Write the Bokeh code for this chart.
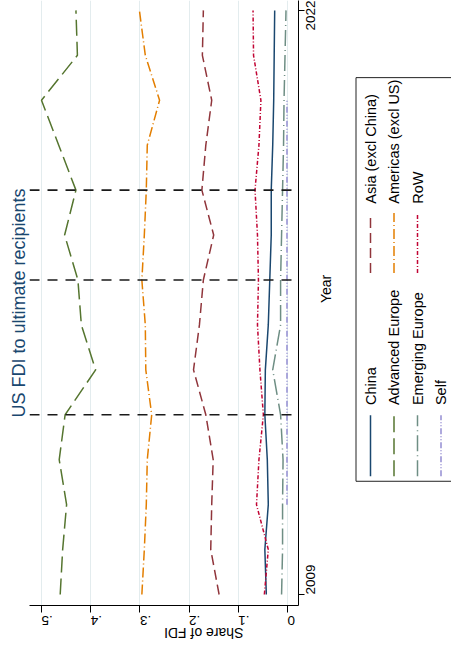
import math
from bokeh.plotting import figure
from bokeh.models import Range1d, Span, FixedTicker
from bokeh.layouts import row
from bokeh.embed import file_html
from bokeh.resources import INLINE
from bokeh.core.properties import value

nan = float("nan")

# ---- data ----
years = list(range(2009, 2023))
china = [0.043, 0.046, 0.039, 0.041, 0.046, 0.045, 0.039, 0.036, 0.033, 0.033, 0.030, 0.028, 0.027, 0.026]
adv_europe = [0.462, 0.457, 0.449, 0.464, 0.452, 0.390, 0.419, 0.426, 0.453, 0.430, 0.465, 0.500, 0.427, 0.430]
emg_europe = [0.012, 0.010, 0.010, 0.009, 0.014, 0.030, 0.014, 0.014, 0.012, 0.010, 0.008, 0.007, 0.005, 0.003]
self_fdi = [nan, nan, 0.001, 0.001, 0.001, 0.001, 0.001, 0.001, 0.001, 0.001, 0.001, 0.001, nan, nan]
asia = [0.139, 0.156, 0.154, 0.151, 0.166, 0.191, 0.179, 0.171, 0.150, 0.174, 0.166, 0.154, 0.173, 0.171]
americas = [0.296, 0.291, 0.287, 0.285, 0.276, 0.288, 0.289, 0.296, 0.291, 0.287, 0.285, 0.260, 0.289, 0.301]
rest_of_world = [0.047, 0.039, 0.063, 0.058, 0.049, 0.056, 0.061, 0.059, 0.061, 0.066, 0.058, 0.054, 0.069, 0.070]
ref_years = [2013, 2016, 2018]
share_ticks = [0, 0.1, 0.2, 0.3, 0.4, 0.5]
share_labels = ["0", ".1", ".2", ".3", ".4", ".5"]
year_ticks = [2009, 2022]

series = [
    ("China", china, "#1a476f", "solid"),
    ("Advanced Europe", adv_europe, "#55752f", "16 6"),
    ("Emerging Europe", emg_europe, "#6e8e84", "16 4 1 4"),
    ("Self", self_fdi, "#938dd2", "6 2 1 2 1 2"),
    ("Asia (excl China)", asia, "#90353b", "10 5"),
    ("Americas (excl US)", americas, "#e37e00", "10 3 1 3"),
    ("RoW", rest_of_world, "#c10534", "4 2 1 2"),
]

FONT = "Liberation Sans"

p = figure(width=352, height=655,
           x_range=Range1d(0.5244, -0.0224), y_range=Range1d(2008.755, 2022.22),
           output_backend="svg", toolbar_location=None, y_axis_location="right",
           title="US FDI to ultimate recipients", title_location="left",
           min_border_left=29, min_border_right=54, min_border_top=0, min_border_bottom=50)
p.outline_line_color = None
p.background_fill_color = "white"
p.border_fill_color = "white"

t = p.title
t.text_font = FONT
t.text_font_size = "18px"
t.text_font_style = "normal"
t.text_color = "#1a476f"
t.align = "center"
t.standoff = 2
t.offset = 16

p.xgrid.ticker = FixedTicker(ticks=share_ticks)
p.xgrid.grid_line_color = "#e3ecee"
p.xgrid.grid_line_width = 1
p.ygrid.grid_line_color = None

xa = p.xaxis[0]
xa.ticker = FixedTicker(ticks=share_ticks)
xa.major_label_overrides = {k: v for k, v in zip(share_ticks, share_labels)}
xa.major_label_orientation = math.pi
xa.axis_label = "Share of FDI"
xa.minor_tick_line_color = None
xa.major_tick_in = 0
xa.major_tick_out = 7
xa.major_label_standoff = 8
xa.axis_label_standoff = 0

ya = p.yaxis[0]
ya.ticker = FixedTicker(ticks=year_ticks)
ya.major_label_orientation = math.pi / 2
ya.axis_label = "Year"
ya.minor_tick_line_color = None
ya.major_tick_in = 0
ya.major_tick_out = 6
ya.major_label_standoff = 6
ya.axis_label_standoff = 3

for ax, ori in ((xa, math.pi), (ya, math.pi / 2)):
    ax.axis_line_color = "black"
    ax.major_tick_line_color = "black"
    ax.major_label_text_font = FONT
    ax.major_label_text_font_size = "13.5px"
    ax.major_label_text_color = "black"
    ax.axis_label_text_font = FONT
    ax.axis_label_text_font_size = "14px"
    ax.axis_label_text_font_style = "normal"
    ax.axis_label_text_color = "black"
    try:
        ax.axis_label_orientation = ori
    except Exception:
        pass

for yr in ref_years:
    p.add_layout(Span(location=yr, dimension="width", line_color="#1a1a1a",
                      line_width=1.6, line_dash="10 8"))

for name, vals, col, dash in series:
    p.line(x=vals, y=years, line_color=col, line_width=1.5, line_dash=dash)

# ---- legend panel (rotated) ----
leg = figure(width=99, height=655, x_range=Range1d(360, 459), y_range=Range1d(663, 8),
             output_backend="svg", toolbar_location=None,
             x_axis_location=None, y_axis_location=None,
             min_border_left=0, min_border_right=0, min_border_top=0, min_border_bottom=0)
leg.grid.visible = False
leg.outline_line_color = None
leg.line(x=[475, 363.5, 363.5, 475], y=[91.5, 91.5, 528.5, 528.5], line_color="#222222", line_width=1)

rows_x = [378, 401.5, 425, 448.5]
cols = [(523, 457, 446), (303, 238, 228)]
entries = [series[0:4], series[4:7]]
for (yb, yt, ytext), ents in zip(cols, entries):
    for xk, (name, vals, col, dash) in zip(rows_x, ents):
        leg.line(x=[xk, xk], y=[yb, yt], line_color=col, line_width=1.5, line_dash=dash)
        leg.text(x=[xk], y=[ytext], text=[name], angle=math.pi / 2,
                 text_align="left", text_baseline="middle",
                 text_font=value(FONT), text_font_size="14.5px", text_color="black")

layout = row(p, leg)
open("out.html", "w").write(file_html(layout, INLINE))
